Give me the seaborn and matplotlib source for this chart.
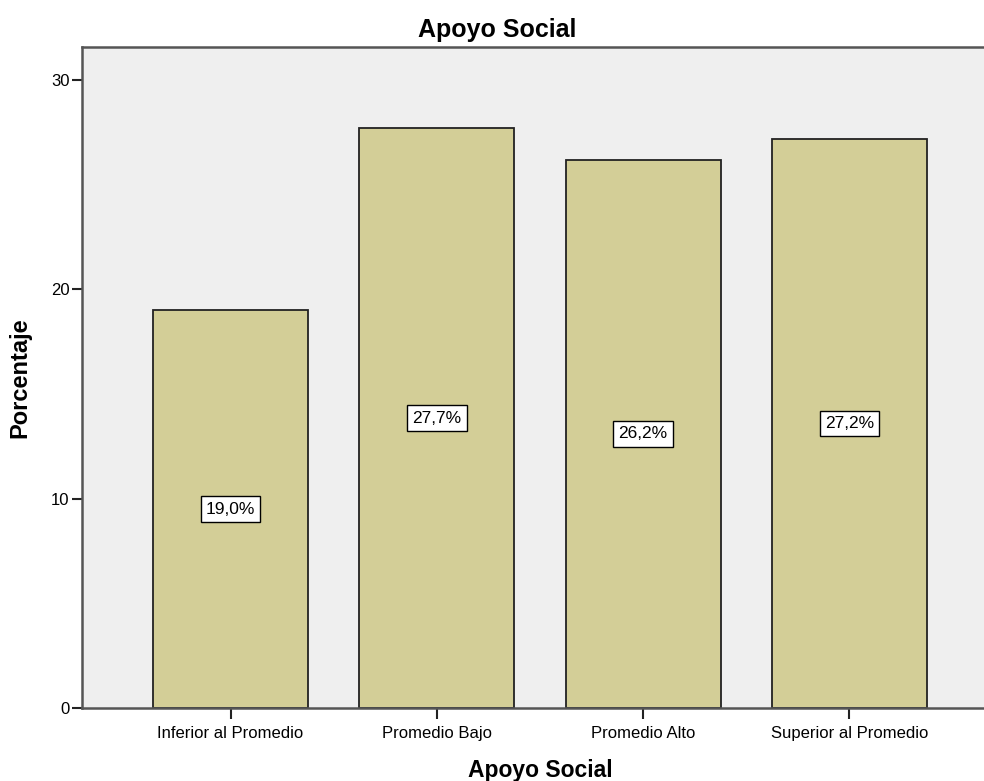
import numpy as np
import pandas as pd
import matplotlib
matplotlib.use('Agg')
import matplotlib.pyplot as plt
import seaborn as sns

# Data
categorias = ['Inferior al Promedio', 'Promedio Bajo', 'Promedio Alto', 'Superior al Promedio']
porcentajes = [19.0, 27.7, 26.2, 27.2]
etiquetas = ['19,0%', '27,7%', '26,2%', '27,2%']
yticks = [0, 10, 20, 30]

df = pd.DataFrame({'Apoyo Social': categorias, 'Porcentaje': porcentajes})

sns.set_style('white')
plt.rcParams['font.family'] = ['Liberation Sans', 'DejaVu Sans']
plt.rcParams['text.color'] = 'black'
plt.rcParams['axes.labelcolor'] = 'black'
plt.rcParams['xtick.color'] = 'black'
plt.rcParams['ytick.color'] = 'black'

fig = plt.figure(figsize=(9.84, 7.81), dpi=100)
ax = fig.add_axes([82 / 984, 1 - 708 / 781, (998 - 82) / 984, (708 - 47) / 781])
ax.set_facecolor('#efefef')

sns.barplot(x='Apoyo Social', y='Porcentaje', data=df, color='#d3ce97',
            width=0.75, edgecolor='#222222', linewidth=1.3, saturation=1, ax=ax)

# value labels in white boxes at bar centre
for i, (v, lab) in enumerate(zip(porcentajes, etiquetas)):
    ax.text(i, v / 2, lab, ha='center', va='center', fontsize=12.5,
            bbox=dict(boxstyle='square,pad=0.3', facecolor='white', edgecolor='black', linewidth=1))

ax.set_xlim(-0.72, 3.72)
ax.set_ylim(0, 31.58)
ax.set_yticks(yticks)
ax.set_yticklabels([str(t) for t in yticks], fontsize=12)
ax.set_xticks(range(len(categorias)))
ax.set_xticklabels(categorias, fontsize=12)
ax.tick_params(axis='y', direction='out', length=7, width=1.5, pad=2,
               color='#222222', left=True)
ax.tick_params(axis='x', direction='out', length=8, width=1.5, pad=5,
               color='#222222', bottom=True)

for s in ['left', 'bottom', 'top', 'right']:
    ax.spines[s].set_color('#555555')
    ax.spines[s].set_linewidth(1.8)

ax.set_title('Apoyo Social', fontsize=18, fontweight='bold', pad=7, x=0.453)
ax.set_xlabel('Apoyo Social', fontsize=16.5, fontweight='bold', labelpad=13)
ax.set_ylabel('Porcentaje', fontsize=17, fontweight='bold', labelpad=14)

fig.savefig('out.png', dpi=100)
